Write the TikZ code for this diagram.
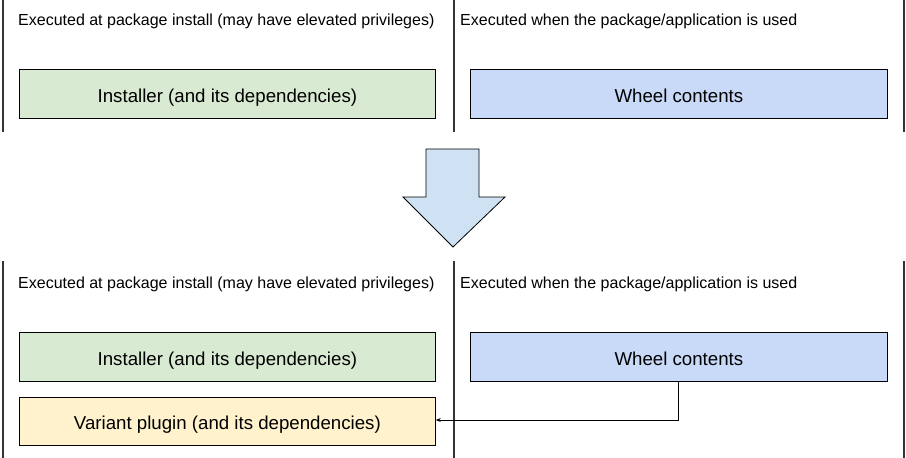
\documentclass[tikz,border=0pt]{standalone}
\usepackage{fontspec}
\setmainfont{Liberation Sans}
\usetikzlibrary{arrows.meta}
\definecolor{grn}{HTML}{D9EAD3}
\definecolor{blu}{HTML}{C9DAF8}
\definecolor{ylw}{HTML}{FFF2CC}
\definecolor{arr}{HTML}{CFE2F3}
\definecolor{sep}{HTML}{333333}
\begin{document}
\begin{tikzpicture}[x=1pt,y=-1pt,
  sepline/.style={draw=sep,line width=2pt},
  header/.style={anchor=base west,inner sep=0pt,font=\fontsize{16}{19}\selectfont},
  box/.style={draw=black,line width=0.8pt,minimum width=416pt,minimum height=49pt,inner sep=0pt,text height=17pt,text depth=0pt,font=\fontsize{18.67}{22}\selectfont,anchor=north west},
  conn/.style={draw=black,line width=0.8pt,-{Stealth[length=5pt,width=4pt]}}]
\useasboundingbox (0,0) rectangle (906,458);
% top section
\draw[sepline] (3,0) -- (3,132);
\draw[sepline] (453.5,0) -- (453.5,132);
\draw[sepline] (904,0) -- (904,132);
\node[header] (h1) at (18,25.5) {Executed at package install (may have elevated privileges)};
\node[header] (h2) at (460,25.5) {Executed when the package/application is used};
\node[box,fill=grn] (inst1) at (19,69) {Installer (and its dependencies)};
\node[box,fill=blu,minimum width=417pt] (wheel1) at (470,69) {Wheel contents};
% big arrow
\draw[draw=black,line width=0.8pt,fill=arr]
  (426,149) -- (479,149) -- (479,197) -- (505,197) -- (453,247) -- (403,197) -- (426,197) -- cycle;
% bottom section
\draw[sepline] (3,261) -- (3,458);
\draw[sepline] (453.5,261) -- (453.5,458);
\draw[sepline] (904,261) -- (904,458);
\node[header] (h3) at (18,288.5) {Executed at package install (may have elevated privileges)};
\node[header] (h4) at (460,288.5) {Executed when the package/application is used};
\node[box,fill=grn] (inst2) at (19,332) {Installer (and its dependencies)};
\node[box,fill=blu,minimum width=417pt] (wheel2) at (470,332) {Wheel contents};
\node[box,fill=ylw,minimum height=48.5pt] (plugin) at (19,396.5) {Variant plugin (and its dependencies)};
\coordinate (bend) at (678,420);
\draw[conn] (wheel2.south -| bend) -- (bend) -- (plugin.east |- bend);
\end{tikzpicture}
\end{document}
